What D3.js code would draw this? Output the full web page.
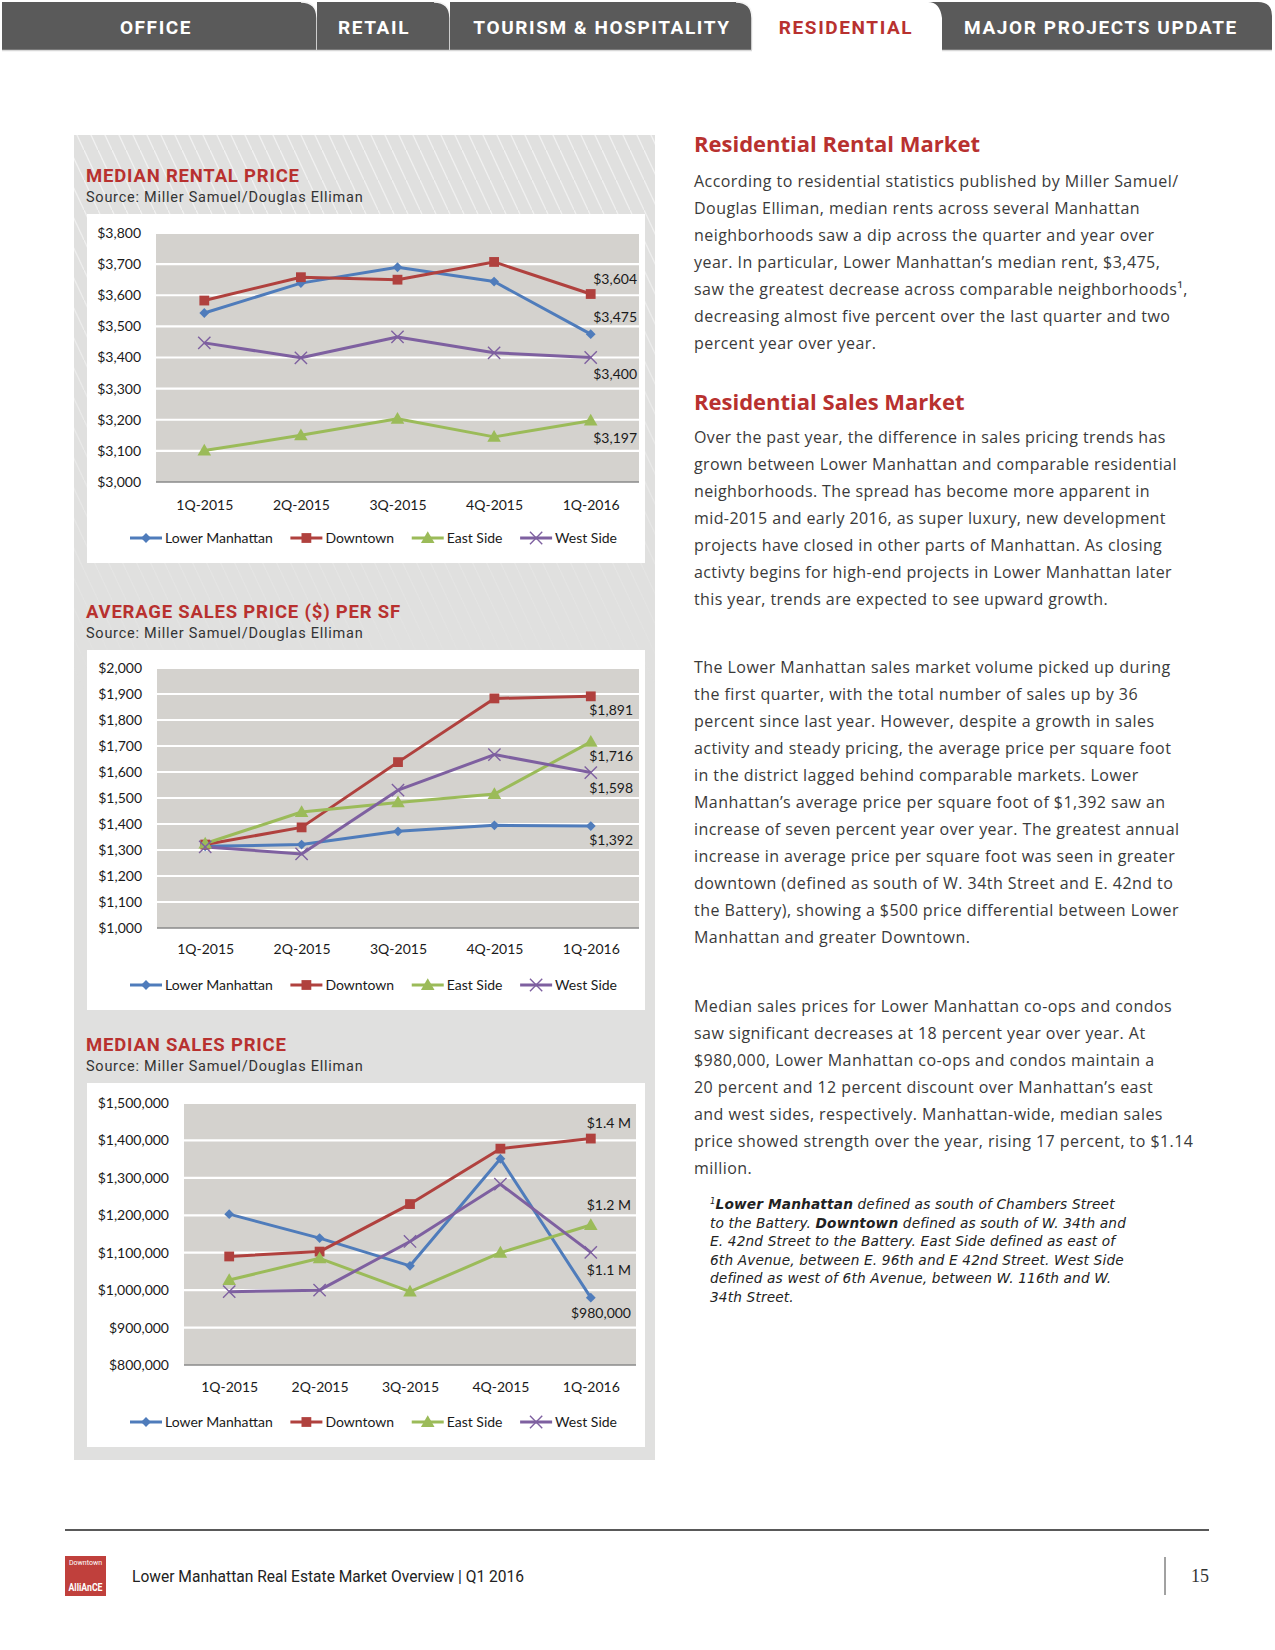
<!DOCTYPE html>
<html>
<head>
<meta charset="utf-8">
<script src="https://cdn.jsdelivr.net/npm/d3@7"></script>
<style>
  body { margin: 0; background: #fff; }
  svg { display: block; }
</style>
</head>
<body>
<script>
const W = 1275;
const H = 1650;

// data
const quarters = ['1Q-2015', '2Q-2015', '3Q-2015', '4Q-2015', '1Q-2016'];
const seriesNames = ['Lower Manhattan', 'Downtown', 'East Side', 'West Side'];

const rentTicks = [3000, 3100, 3200, 3300, 3400, 3500, 3600, 3700, 3800];
const rentLower = [3543, 3639, 3690, 3644, 3475];
const rentDowntown = [3583, 3658, 3650, 3707, 3604];
const rentEast = [3101, 3150, 3203, 3145, 3197];
const rentWest = [3447, 3399, 3466, 3415, 3400];
const rentLabels = ['$3,475', '$3,604', '$3,197', '$3,400'];

const ppsfTicks = [1000, 1100, 1200, 1300, 1400, 1500, 1600, 1700, 1800, 1900, 2000];
const ppsfLower = [1314, 1321, 1372, 1395, 1392];
const ppsfDowntown = [1321, 1387, 1638, 1883, 1891];
const ppsfEast = [1325, 1446, 1483, 1515, 1716];
const ppsfWest = [1312, 1285, 1530, 1667, 1598];
const ppsfLabels = ['$1,392', '$1,891', '$1,716', '$1,598'];

const saleTicks = [800000, 900000, 1000000, 1100000, 1200000, 1300000, 1400000, 1500000];
const saleLower = [1203000, 1139000, 1065000, 1351000, 980000];
const saleDowntown = [1090000, 1103000, 1230000, 1378000, 1405000];
const saleEast = [1027000, 1085000, 996000, 1100000, 1174000];
const saleWest = [996000, 1000000, 1130000, 1283000, 1101000];
const saleLabels = ['$980,000', '$1.4 M', '$1.2 M', '$1.1 M'];

const tabNames = ['OFFICE', 'RETAIL', 'TOURISM & HOSPITALITY', 'RESIDENTIAL', 'MAJOR PROJECTS UPDATE'];

const colors = ['#4f7cbb', '#b0413e', '#9bbb59', '#7e60a0'];
const red = '#b8312f';
const textColor = '#3a3a3a';
const chartFont = 'Lato, Carlito, sans-serif';
const bodyFont = 'Roboto, "Noto Sans", sans-serif';
const copyFont = '"Open Sans", Roboto, sans-serif';

const svg = d3.select('body').append('svg')
  .attr('width', W)
  .attr('height', H);

const defs = svg.append('defs');
const hatch = defs.append('pattern')
  .attr('id', 'hatch')
  .attr('patternUnits', 'userSpaceOnUse')
  .attr('width', 14)
  .attr('height', 30);
hatch.append('line')
  .attr('x1', 0).attr('y1', 0).attr('x2', 14).attr('y2', 30)
  .attr('stroke', '#f2f2f2').attr('stroke-width', 1.3);
const fade = defs.append('linearGradient')
  .attr('id', 'fade')
  .attr('x1', 0).attr('y1', 0).attr('x2', 0).attr('y2', 1);
fade.append('stop').attr('offset', '0').attr('stop-color', '#fff').attr('stop-opacity', 1);
fade.append('stop').attr('offset', '0.6').attr('stop-color', '#fff').attr('stop-opacity', 0.5);
fade.append('stop').attr('offset', '1').attr('stop-color', '#fff').attr('stop-opacity', 0);
defs.append('mask').attr('id', 'hatchMask')
  .append('rect')
  .attr('x', 74).attr('y', 135).attr('width', 581).attr('height', 560)
  .attr('fill', 'url(#fade)');

// ---------- tabs ----------
const tabs = svg.append('g');
const tabSpans = [[2, 317], [317, 450], [450, 752], null, [930, 1272]];
tabSpans.forEach((s, i) => {
  if (!s) return;
  const [a, b] = s;
  let d;
  if (i === 4) {
    d = `M${a + 12},50 L${a + 12},18 Q${a + 10},2 ${a - 2},2 L${b - 14},2 Q${b},2 ${b},16 L${b},50 Z`;
  } else {
    d = `M${a},50 L${a},2 L${b - 16},2 Q${b},2 ${b},18 L${b},50 Z`;
  }
  tabs.append('path').attr('d', d).attr('fill', '#5a5a5a');
  if (i < 3) {
    tabs.append('path')
      .attr('d', `M${b - 16},2 Q${b},2 ${b},18 L${b},50`)
      .attr('fill', 'none').attr('stroke', '#f4f4f4').attr('stroke-width', 1.5);
  }
});
tabs.append('line')
  .attr('x1', 2).attr('x2', 752).attr('y1', 50.5).attr('y2', 50.5)
  .attr('stroke', '#d8d8d8').attr('stroke-width', 1.5);
tabs.append('line')
  .attr('x1', 942).attr('x2', 1272).attr('y1', 50.5).attr('y2', 50.5)
  .attr('stroke', '#d8d8d8').attr('stroke-width', 1.5);
const tabCenters = [156, 374, 602, 846, 1101];
tabs.selectAll('text.tab')
  .data(tabNames)
  .enter()
  .append('text')
  .attr('class', 'tab')
  .attr('x', (d, i) => tabCenters[i])
  .attr('y', 34)
  .attr('text-anchor', 'middle')
  .attr('font-family', bodyFont)
  .attr('font-weight', 700)
  .attr('font-size', 19)
  .attr('letter-spacing', 1.6)
  .attr('fill', (d, i) => i === 3 ? red : '#fff')
  .text(d => d);

// ---------- left panel ----------
svg.append('rect')
  .attr('x', 74).attr('y', 135).attr('width', 581).attr('height', 1325)
  .attr('fill', '#e0e0df');
svg.append('rect')
  .attr('x', 74).attr('y', 135).attr('width', 581).attr('height', 560)
  .attr('fill', 'url(#hatch)')
  .attr('mask', 'url(#hatchMask)');

const charts = [
  {
    title: 'MEDIAN RENTAL PRICE', titleY: 182, sourceY: 202,
    box: [87, 214, 645, 563], plot: [156, 233, 639, 482],
    xLabelY: 510, legendY: 538,
    ticks: rentTicks, series: [rentLower, rentDowntown, rentEast, rentWest],
    labels: rentLabels, labelX: 637, labelDy: [-17, -15, 17, 17]
  },
  {
    title: 'AVERAGE SALES PRICE ($) PER SF', titleY: 618, sourceY: 638,
    box: [87, 650, 645, 1010], plot: [157, 668, 639, 928],
    xLabelY: 954, legendY: 985,
    ticks: ppsfTicks, series: [ppsfLower, ppsfDowntown, ppsfEast, ppsfWest],
    labels: ppsfLabels, labelX: 633, labelDy: [14, 14, 14, 15.5]
  },
  {
    title: 'MEDIAN SALES PRICE', titleY: 1051, sourceY: 1071,
    box: [87, 1083, 645, 1447], plot: [184, 1103, 636, 1365],
    xLabelY: 1392, legendY: 1422,
    ticks: saleTicks, series: [saleLower, saleDowntown, saleEast, saleWest],
    labels: saleLabels, labelX: 631, labelDy: [15.5, -15, -20, 18]
  }
];

const markerPath = (i) => {
  if (i === 0) return d3.symbol(d3.symbolSquare, 48)();
  if (i === 1) return d3.symbol(d3.symbolSquare, 96)();
  if (i === 2) return d3.symbol(d3.symbolTriangle, 80)();
  return d3.symbol(d3.symbolX, 100)();
};

const addMarker = (g, i, x, y) => {
  const m = g.append('path')
    .attr('d', markerPath(i))
    .attr('transform', `translate(${x},${y})` + (i === 0 ? ' rotate(45)' : '') + (i === 2 ? ' translate(0,1)' : ''));
  if (i === 3) {
    m.attr('fill', 'none').attr('stroke', colors[i]).attr('stroke-width', 1.4);
  } else {
    m.attr('fill', colors[i]);
  }
};

const drawChart = (c) => {
  const g = svg.append('g');
  g.append('text')
    .attr('x', 86).attr('y', c.titleY)
    .attr('font-family', bodyFont).attr('font-weight', 700).attr('font-size', 18.5)
    .attr('letter-spacing', 0.8)
    .attr('fill', red)
    .text(c.title);
  g.append('text')
    .attr('x', 86).attr('y', c.sourceY)
    .attr('font-family', bodyFont).attr('font-size', 14.5)
    .attr('letter-spacing', 0.75)
    .attr('fill', '#333')
    .text('Source: Miller Samuel/Douglas Elliman');

  const [bx0, by0, bx1, by1] = c.box;
  g.append('rect')
    .attr('x', bx0).attr('y', by0).attr('width', bx1 - bx0).attr('height', by1 - by0)
    .attr('fill', '#fff');

  const [px0, py0, px1, py1] = c.plot;
  const x = d3.scalePoint().domain(quarters).range([px0, px1]).padding(0.5);
  const y = d3.scaleLinear().domain(d3.extent(c.ticks)).range([py1, py0]);

  g.append('rect')
    .attr('x', px0).attr('y', py0).attr('width', px1 - px0).attr('height', py1 - py0)
    .attr('fill', '#d4d2ce');

  g.selectAll('line.grid')
    .data(c.ticks.slice(1))
    .enter()
    .append('line')
    .attr('class', 'grid')
    .attr('x1', px0).attr('x2', px1)
    .attr('y1', d => y(d)).attr('y2', d => y(d))
    .attr('stroke', '#fff').attr('stroke-width', 2.2);

  g.append('line')
    .attr('x1', px0).attr('x2', px1).attr('y1', py1).attr('y2', py1)
    .attr('stroke', '#8a8a8a').attr('stroke-width', 1.5);

  const yAxis = g.append('g')
    .attr('transform', `translate(${px0},0)`)
    .call(d3.axisLeft(y).tickValues(c.ticks).tickSize(0).tickPadding(15).tickFormat(d3.format('$,')));
  yAxis.select('.domain').remove();
  yAxis.selectAll('text')
    .attr('font-family', chartFont).attr('font-size', 14).attr('fill', '#1a1a1a');

  const xAxis = g.append('g')
    .attr('transform', `translate(0,${c.xLabelY})`)
    .call(d3.axisBottom(x).tickSize(0).tickPadding(0));
  xAxis.select('.domain').remove();
  xAxis.selectAll('text')
    .attr('dy', 0)
    .attr('font-family', chartFont).attr('font-size', 14).attr('fill', '#1a1a1a');

  const line = d3.line()
    .x((d, i) => x(quarters[i]))
    .y(d => y(d));

  c.series.forEach((s, si) => {
    g.append('path')
      .datum(s)
      .attr('d', line)
      .attr('fill', 'none')
      .attr('stroke', colors[si])
      .attr('stroke-width', 3)
      .attr('stroke-linejoin', 'round');
  });
  c.series.forEach((s, si) => {
    s.forEach((v, i) => addMarker(g, si, x(quarters[i]), y(v)));
  });

  c.labels.forEach((lab, si) => {
    const last = c.series[si][quarters.length - 1];
    g.append('text')
      .attr('x', c.labelX)
      .attr('y', y(last) + c.labelDy[si])
      .attr('dy', '0.35em')
      .attr('text-anchor', 'end')
      .attr('font-family', chartFont).attr('font-size', 14).attr('fill', '#1a1a1a')
      .text(lab);
  });

  // legend
  const lg = g.append('g').attr('transform', `translate(0,${c.legendY})`);
  const items = seriesNames.map((name, i) => {
    const it = lg.append('g');
    it.append('line')
      .attr('x1', 0).attr('x2', 32).attr('y1', 0).attr('y2', 0)
      .attr('stroke', colors[i]).attr('stroke-width', 3);
    addMarker(it, i, 16, 0);
    const t = it.append('text')
      .attr('x', 35).attr('dy', '0.35em')
      .attr('font-family', chartFont).attr('font-size', 14).attr('fill', '#1a1a1a')
      .text(name);
    return { it, w: 35 + t.node().getComputedTextLength() };
  });
  const span = 617 - 130;
  const gap = (span - d3.sum(items, d => d.w)) / (items.length - 1);
  let cx = 130;
  items.forEach(d => {
    d.it.attr('transform', `translate(${cx},0)`);
    cx += d.w + gap;
  });
};

charts.forEach(drawChart);

// ---------- right column text ----------
const para1 = [
  'According to residential statistics published by Miller Samuel/',
  'Douglas Elliman, median rents across several Manhattan',
  'neighborhoods saw a dip across the quarter and year over',
  'year. In particular, Lower Manhattan’s median rent, $3,475,',
  'saw the greatest decrease across comparable neighborhoods¹,',
  'decreasing almost five percent over the last quarter and two',
  'percent year over year.'
];
const para2 = [
  'Over the past year, the difference in sales pricing trends has',
  'grown between Lower Manhattan and comparable residential',
  'neighborhoods. The spread has become more apparent in',
  'mid-2015 and early 2016, as super luxury, new development',
  'projects have closed in other parts of Manhattan. As closing',
  'activty begins for high-end projects in Lower Manhattan later',
  'this year, trends are expected to see upward growth.'
];
const para3 = [
  'The Lower Manhattan sales market volume picked up during',
  'the first quarter, with the total number of sales up by 36',
  'percent since last year. However, despite a growth in sales',
  'activity and steady pricing, the average price per square foot',
  'in the district lagged behind comparable markets. Lower',
  'Manhattan’s average price per square foot of $1,392 saw an',
  'increase of seven percent year over year. The greatest annual',
  'increase in average price per square foot was seen in greater',
  'downtown (defined as south of W. 34th Street and E. 42nd to',
  'the Battery), showing a $500 price differential between Lower',
  'Manhattan and greater Downtown.'
];
const para4 = [
  'Median sales prices for Lower Manhattan co-ops and condos',
  'saw significant decreases at 18 percent year over year. At',
  '$980,000, Lower Manhattan co-ops and condos maintain a',
  '20 percent and 12 percent discount over Manhattan’s east',
  'and west sides, respectively. Manhattan-wide, median sales',
  'price showed strength over the year, rising 17 percent, to $1.14',
  'million.'
];

const right = svg.append('g');
const heading = (txt, yy) => right.append('text')
  .attr('x', 694).attr('y', yy)
  .attr('font-family', copyFont).attr('font-weight', 700).attr('font-size', 22)
  .attr('fill', red)
  .text(txt);
const paragraph = (lines, y0, ls) => {
  right.selectAll(null)
    .data(lines)
    .enter()
    .append('text')
    .attr('x', 694)
    .attr('y', (d, i) => y0 + i * 27)
    .attr('font-family', copyFont).attr('font-size', 16)
    .attr('letter-spacing', ls)
    .attr('fill', textColor)
    .text(d => d);
};
heading('Residential Rental Market', 152);
paragraph(para1, 187, 0.45);
heading('Residential Sales Market', 410);
paragraph(para2, 443, 0.4);
paragraph(para3, 673, 0.45);
paragraph(para4, 1012, 0.45);

// footnote
const foot = [
  [['1', 'sup'], ['Lower Manhattan', 'b'], [' defined as south of Chambers Street', '']],
  [['to the Battery. ', ''], ['Downtown', 'b'], [' defined as south of W. 34th and', '']],
  [['E. 42nd Street to the Battery. East Side defined as east of', '']],
  [['6th Avenue, between E. 96th and E 42nd Street. West Side', '']],
  [['defined as west of 6th Avenue, between W. 116th and W.', '']],
  [['34th Street.', '']]
];
foot.forEach((parts, i) => {
  const t = right.append('text')
    .attr('x', 710).attr('y', 1209 + i * 18.5)
    .attr('font-family', '"DejaVu Sans", sans-serif')
    .attr('font-style', 'italic')
    .attr('font-size', 13.7)
    .attr('letter-spacing', 0.15)
    .attr('fill', '#222');
  parts.forEach(([s, k]) => {
    const ts = t.append('tspan').text(s);
    if (k === 'b') ts.attr('font-weight', 700);
    if (k === 'sup') ts.attr('font-size', 8.5).attr('dy', -5);
    if (k === 'b' && i === 0) ts.attr('dy', 5);
  });
});

// ---------- footer ----------
svg.append('line')
  .attr('x1', 65).attr('x2', 1209).attr('y1', 1530).attr('y2', 1530)
  .attr('stroke', '#222').attr('stroke-width', 1.5);
const logo = svg.append('g');
logo.append('rect')
  .attr('x', 65).attr('y', 1556).attr('width', 41).attr('height', 40)
  .attr('fill', '#c0403c');
logo.append('text')
  .attr('x', 85.5).attr('y', 1565)
  .attr('text-anchor', 'middle')
  .attr('font-family', bodyFont).attr('font-size', 7)
  .attr('fill', '#fff')
  .text('Downtown');
logo.append('text')
  .attr('x', 85.5).attr('y', 1591)
  .attr('text-anchor', 'middle')
  .attr('font-family', bodyFont).attr('font-weight', 700).attr('font-size', 10)
  .attr('textLength', 34).attr('lengthAdjust', 'spacingAndGlyphs')
  .attr('fill', '#fff')
  .text('AlliAnCE');
svg.append('text')
  .attr('x', 132).attr('y', 1582)
  .attr('font-family', bodyFont).attr('font-size', 16.5)
  .attr('textLength', 392).attr('lengthAdjust', 'spacingAndGlyphs')
  .attr('fill', '#222')
  .text('Lower Manhattan Real Estate Market Overview | Q1 2016');
svg.append('line')
  .attr('x1', 1165).attr('x2', 1165).attr('y1', 1557).attr('y2', 1595)
  .attr('stroke', '#444').attr('stroke-width', 1);
svg.append('text')
  .attr('x', 1191).attr('y', 1582)
  .attr('font-family', '"Liberation Serif", serif').attr('font-size', 18)
  .attr('fill', '#333')
  .text('15');
</script>
</body>
</html>
